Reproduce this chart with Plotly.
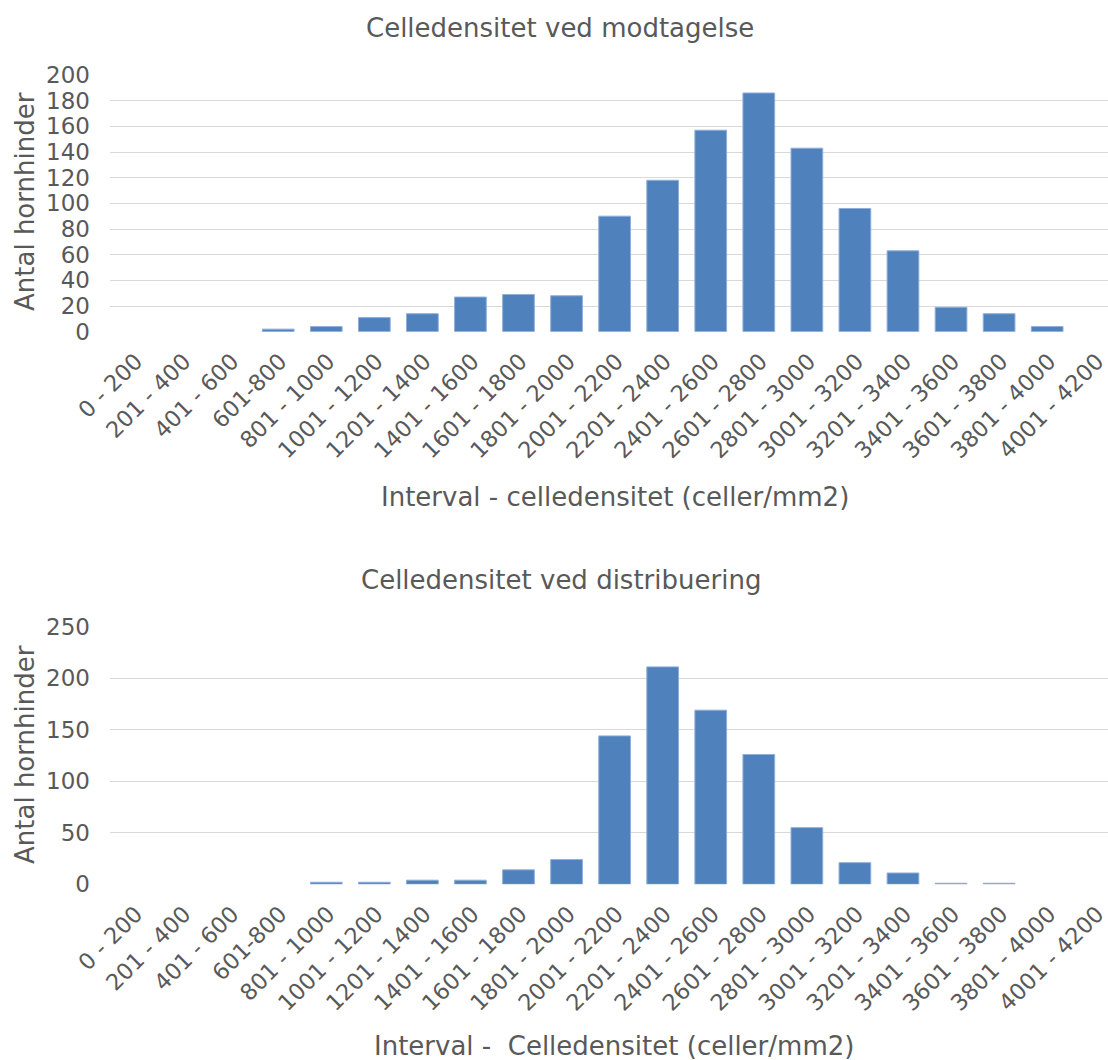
import plotly.graph_objects as go

# Interval categories (celler/mm2)
intervals = [
    "0 - 200", "201 - 400", "401 - 600", "601-800", "801 - 1000",
    "1001 - 1200", "1201 - 1400", "1401 - 1600", "1601 - 1800", "1801 - 2000",
    "2001 - 2200", "2201 - 2400", "2401 - 2600", "2601 - 2800", "2801 - 3000",
    "3001 - 3200", "3201 - 3400", "3401 - 3600", "3601 - 3800", "3801 - 4000",
    "4001 - 4200",
]

# Antal hornhinder ved modtagelse
modtagelse = [0, 0, 0, 2, 4, 11, 14, 27, 29, 28, 90, 118, 157, 186, 143, 96, 63, 19, 14, 4, 0]

# Antal hornhinder ved distribuering
distribuering = [0, 0, 0, 0, 2, 2, 4, 4, 14, 24, 144, 211, 169, 126, 55, 21, 11, 1, 1, 0, 0]

W, H = 1108, 1060
FONT = "DejaVu Sans"
GREY = "#595959"
GRID = "#D9D9D9"
BAR = "#4F81BD"


def px(x):
    return x / W


def py(y):
    return 1 - y / H


def bar_marker(values):
    # outline only where a bar actually has height
    return dict(color=BAR, line=dict(color="#8FAEDA", width=[1 if v else 0 for v in values]))


fig = go.Figure()
fig.add_trace(go.Bar(x=list(range(len(intervals))), y=modtagelse, xaxis="x", yaxis="y",
                     marker=bar_marker(modtagelse)))
fig.add_trace(go.Bar(x=list(range(len(intervals))), y=distribuering, xaxis="x2", yaxis="y2",
                     marker=bar_marker(distribuering)))

xcommon = dict(
    tickmode="array", tickvals=list(range(len(intervals))), ticktext=intervals,
    tickangle=-45, range=[-0.5, 20.266], domain=[px(110), 1.0],
    showgrid=False, zeroline=False, showline=False, ticks="",
    tickfont=dict(family=FONT, size=22.5, color=GREY), automargin=False,
    ticklabelstandoff=11, ticklabelshift=2, ticklabeloverflow="allow",
    fixedrange=True,
)
ycommon = dict(
    showgrid=True, gridcolor=GRID, gridwidth=1.4, zeroline=False, showline=False,
    ticks="", tickfont=dict(family=FONT, size=23, color=GREY), ticklabelstandoff=19,
    automargin=False,
)

fig.update_layout(
    width=W, height=H,
    margin=dict(l=0, r=0, t=0, b=0),
    paper_bgcolor="white", plot_bgcolor="white",
    showlegend=False, bargap=0.34,
    xaxis=dict(xcommon, anchor="y"),
    xaxis2=dict(xcommon, anchor="y2"),
    yaxis=dict(ycommon, anchor="x", domain=[py(331.7), py(75)], range=[0, 200], dtick=20),
    yaxis2=dict(ycommon, anchor="x2", domain=[py(884.3), py(626.7)], range=[0, 250], dtick=50),
)

title_font = dict(family=FONT, size=26, color=GREY)
texts = [
    ("Celledensitet ved modtagelse", 560, 28, 0),
    ("Interval - celledensitet (celler/mm2)", 615, 497, 0),
    ("Antal hornhinder", 25, 202, -90),
    ("Celledensitet ved distribuering", 561, 580, 0),
    ("Interval -  Celledensitet (celler/mm2)", 614, 1046, 0),
    ("Antal hornhinder", 25, 755, -90),
]
for txt, x, y, ang in texts:
    fig.add_annotation(text=txt, x=px(x), y=py(y), xref="paper", yref="paper",
                       xanchor="center", yanchor="middle", showarrow=False,
                       textangle=ang, font=title_font)

fig.write_html("out.html")
